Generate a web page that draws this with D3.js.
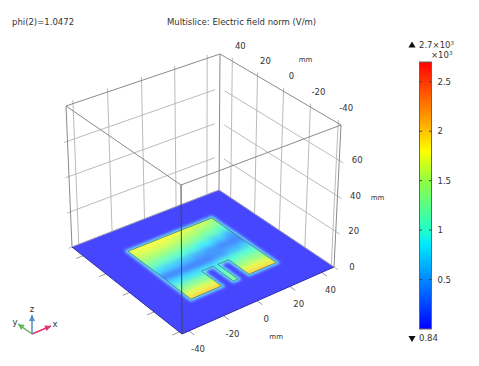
<!DOCTYPE html>
<html>
<head>
<meta charset="utf-8">
<script src="https://cdn.jsdelivr.net/npm/d3@7"></script>
<style>
  html, body { margin: 0; padding: 0; background: #fff; }
  text { font-family: "DejaVu Sans", sans-serif; fill: #333; }
</style>
</head>
<body>
<svg id="chart" width="479" height="366"></svg>
<script>
// Axis ranges and ticks (mm)
const xExtent = [-44, 48];
const yExtent = [-42, 50];
const zExtent = [0, 80];
const xTicks = [-40, -20, 0, 20, 40];
const yTicks = [-40, -20, 0, 20, 40];
const zTicks = [0, 20, 40, 60];
const zGrid = [20, 40, 60];

// Patch outline and feed notches, in mm
const patchX = [-24, -5.7, -5.7, 1.4, 1.4, 4.2, 4.2, 11, 11, 28, 28, -24];
const patchY = [-22, -22, -6, -6, -22, -22, -6, -6, -22, -22, 30, 30];

// Field norm on the patch (V/m), rows along fieldY, columns along fieldX
const fieldX = [-24, -15, -6, 2, 10, 19, 28];
const fieldY = [30, 24, 18, 12, 6, 0, -6, -12, -18, -22];
const fieldRows = [
  [1750, 1800, 1800, 1800, 1750, 1680, 1550],
  [1650, 1680, 1680, 1620, 1550, 1450, 1320],
  [1450, 1450, 1400, 1350, 1250, 1120, 950],
  [1150, 1100, 1050, 950, 850, 700, 480],
  [750, 700, 620, 520, 420, 330, 320],
  [330, 320, 300, 300, 420, 580, 680],
  [800, 800, 800, 800, 950, 1020, 1020],
  [1250, 1280, 1250, 1000, 1300, 1380, 1350],
  [1700, 1720, 1700, 1200, 1720, 1720, 1680],
  [1980, 2020, 2020, 1200, 2020, 2020, 1950]
];

// Colour table
const colorValues = [0, 850, 1000, 1500, 1800, 2000, 2700];
const colorNames = ["#0000ff", "#00e8ff", "#20ffc8", "#90ff40", "#ffff00", "#ffc000", "#ff0000"];
const legendTicks = [500, 1000, 1500, 2000, 2500];
const plateField = 0.84;

// Camera: where the floor and the lid of the box land on the page (front, right, back, left)
const floorQuad = [[182, 334], [334, 267], [219, 190], [72, 247]];
const lidQuad = [[181, 185], [341, 125], [220, 54], [66, 106]];

function quadMap(q) {
  const [[x0, y0], [x1, y1], [x2, y2], [x3, y3]] = q;
  const dx1 = x1 - x2, dx2 = x3 - x2, sx = x0 - x1 + x2 - x3;
  const dy1 = y1 - y2, dy2 = y3 - y2, sy = y0 - y1 + y2 - y3;
  const den = dx1 * dy2 - dx2 * dy1;
  const g = (sx * dy2 - dx2 * sy) / den;
  const h = (dx1 * sy - sx * dy1) / den;
  const a = x1 - x0 + g * x1, b = x3 - x0 + h * x3;
  const d = y1 - y0 + g * y1, e = y3 - y0 + h * y3;
  return (u, v) => {
    const w = g * u + h * v + 1;
    return [(a * u + b * v + x0) / w, (d * u + e * v + y0) / w];
  };
}

const uScale = d3.scaleLinear().domain(xExtent).range([0, 1]);
const vScale = d3.scaleLinear().domain(yExtent).range([0, 1]);
const tScale = d3.scaleLinear().domain(zExtent).range([0, 1]);
const floorMap = quadMap(floorQuad);
const lidMap = quadMap(lidQuad);

function project(x, y, z) {
  const a = floorMap(uScale(x), vScale(y));
  const b = lidMap(uScale(x), vScale(y));
  const t = tScale(z);
  return [a[0] + (b[0] - a[0]) * t, a[1] + (b[1] - a[1]) * t];
}

const color = d3.scaleLinear().domain(colorValues).range(colorNames);
const line3d = pts => d3.line()(pts.map(p => project(p[0], p[1], p[2])));
const loop3d = pts => line3d(pts) + "Z";

const [x0, x1] = xExtent;
const [y0, y1] = yExtent;
const [z0, z1] = zExtent;

const svg = d3.select("#chart");
const defs = svg.append("defs");

function blurFilter(id, dev) {
  defs.append("filter").attr("id", id)
    .attr("x", "-20%").attr("y", "-20%").attr("width", "140%").attr("height", "140%")
    .attr("color-interpolation-filters", "sRGB")
    .append("feGaussianBlur").attr("stdDeviation", dev);
}
blurFilter("fieldBlur", 2.4);
blurFilter("glowBlur", 1.7);

const platePts = [[x0, y0, 0], [x1, y0, 0], [x1, y1, 0], [x0, y1, 0]];
const patchPts = patchX.map((x, i) => [x, patchY[i], 0]);

defs.append("clipPath").attr("id", "plateClip").append("path").attr("d", loop3d(platePts));
defs.append("clipPath").attr("id", "patchClip").append("path").attr("d", loop3d(patchPts));

// Wall grid
const grid = svg.append("g").attr("fill", "none").attr("stroke", "#bbb").attr("stroke-width", 1);
xTicks.forEach(x => grid.append("path").attr("d", line3d([[x, y1, 0], [x, y1, z1 + 2]])));
yTicks.forEach(y => grid.append("path").attr("d", line3d([[x1, y, 0], [x1, y, z1 + 2]])));
zGrid.concat([0]).forEach(z => {
  grid.append("path").attr("d", line3d([[x0 - 2, y1, z], [x1 - 3, y1, z]]));
  grid.append("path").attr("d", line3d([[x1, y1 - 4, z], [x1, y0 - 3, z]]));
});

// Box, back part
const box = svg.append("g").attr("fill", "none").attr("stroke", "#8a8a8a").attr("stroke-width", 1);
box.append("path").attr("d", line3d([[x0, y1, 0], [x0, y1, z1]]));
box.append("path").attr("d", line3d([[x1, y1, 0], [x1, y1, z1]]));
box.append("path").attr("d", line3d([[x1, y0, 0], [x1, y0, z1]]));

// Floor ticks
const floorTicks = svg.append("g").attr("fill", "none").attr("stroke", "#999");
xTicks.forEach(x => floorTicks.append("path").attr("d", line3d([[x, y0, 0], [x, y0 - 4, 0]])));
yTicks.forEach(y => floorTicks.append("path").attr("d", line3d([[x0, y, 0], [x0 - 4, y, 0]])));

// Plate with the field on it
const surface = svg.append("g").attr("opacity", 0.72);
surface.append("path").attr("d", loop3d(platePts)).attr("fill", color(plateField));
surface.append("g").attr("clip-path", "url(#plateClip)")
  .append("path").attr("d", loop3d(patchPts))
  .attr("fill", "none").attr("stroke", "#38e4ff").attr("stroke-width", 4)
  .attr("filter", "url(#glowBlur)");

// Cell limits halfway between stations, pushed past the patch so the blur stays even
const cellEdges = s => s.map((v, i) => [
  i === 0 ? v - (s[1] - s[0]) * 2 : (s[i - 1] + v) / 2,
  i === s.length - 1 ? v + (v - s[i - 1]) * 2 : (s[i + 1] + v) / 2
]);
const xEdges = cellEdges(fieldX);
const yEdges = cellEdges(fieldY);
const cells = [];
fieldRows.forEach((row, j) => row.forEach((value, i) => cells.push({ i, j, value })));

surface.append("g").attr("clip-path", "url(#patchClip)")
  .append("g").attr("filter", "url(#fieldBlur)")
  .selectAll("path").data(cells).enter().append("path")
  .attr("d", c => {
    const [xa, xb] = xEdges[c.i];
    const [ya, yb] = yEdges[c.j];
    return loop3d([[xa, ya, 0], [xb, ya, 0], [xb, yb, 0], [xa, yb, 0]]);
  })
  .attr("fill", c => color(c.value))
  .attr("stroke", c => color(c.value));

// Patch outline and plate rim
svg.append("path").attr("d", loop3d(patchPts))
  .attr("fill", "none").attr("stroke", "#2f5f5a").attr("stroke-width", 0.6);
svg.append("path").attr("d", line3d([[x0, y1, 0], [x1, y1, 0], [x1, y0, 0]]))
  .attr("fill", "none").attr("stroke", "#9a9ac0").attr("stroke-width", 1);
svg.append("path").attr("d", line3d([[x0, y1, 0], [x0, y0, 0], [x1, y0, 0]]))
  .attr("fill", "none").attr("stroke", "#2c2ca8").attr("stroke-width", 1);

// Box, front part and lid
box.raise();
box.append("path").attr("d", loop3d([[x0, y0, z1], [x1, y0, z1], [x1, y1, z1], [x0, y1, z1]]));
svg.append("path").attr("d", line3d([[x0, y0, 0], [x0, y0, z1]]))
  .attr("fill", "none").attr("stroke", "#444").attr("stroke-width", 1);

// Axis labels
const labels = svg.append("g").attr("font-size", 8.5).attr("text-anchor", "middle");
function label(text, p, dx, dy, size) {
  labels.append("text").attr("x", p[0] + dx).attr("y", p[1] + dy).attr("dy", "0.35em")
    .attr("font-size", size || 8.5).text(text);
}
xTicks.forEach(x => label(x, project(x, y0, 0), 9, 18));
yTicks.forEach(y => label(y, project(x1, y, z1), 8, -15));
zTicks.forEach(z => label(z, project(x1, y0, z), 18, 0));
label("mm", project(0, y0, 0), 19, 36, 7);
label("mm", project(x1, 0, z1), 22, -32, 7);
label("mm", project(x1, y0, 40), 40, 2, 7);

// Header
svg.append("text").attr("x", 12).attr("y", 25).attr("font-size", 8.5).text("phi(2)=1.0472");
svg.append("text").attr("x", 167).attr("y", 25).attr("font-size", 8.5)
  .text("Multislice: Electric field norm (V/m)");

// Colour bar
const barY = d3.scaleLinear().domain([0, 2700]).range([329, 62]);
const grad = defs.append("linearGradient").attr("id", "barGrad")
  .attr("x1", 0).attr("x2", 0).attr("y1", 1).attr("y2", 0);
colorValues.forEach((v, i) => grad.append("stop")
  .attr("offset", v / 2700).attr("stop-color", colorNames[i]));

const bar = svg.append("g").attr("transform", "translate(419.5,0)");
bar.append("rect").attr("y", barY(2700)).attr("width", 12).attr("height", barY(0) - barY(2700))
  .attr("fill", "url(#barGrad)").attr("stroke", "#666").attr("stroke-width", 1);
const barAxis = bar.append("g").attr("transform", "translate(12,0)")
  .call(d3.axisRight(barY).tickValues(legendTicks).tickSize(0).tickPadding(6).tickFormat(d => d / 1000));
barAxis.select(".domain").remove();
barAxis.selectAll("text").attr("font-size", 8.5).style("font-family", "DejaVu Sans, sans-serif");
legendTicks.forEach(v => {
  bar.append("line").attr("x1", 0).attr("x2", 2.5).attr("y1", barY(v)).attr("y2", barY(v)).attr("stroke", "#444");
  bar.append("line").attr("x1", 9.5).attr("x2", 12).attr("y1", barY(v)).attr("y2", barY(v)).attr("stroke", "#444");
});

// Range markers above and below the bar
const triangle = d3.symbol().type(d3.symbolTriangle).size(22);
svg.append("path").attr("d", triangle()).attr("transform", "translate(412,45.5)").attr("fill", "#111");
svg.append("path").attr("d", triangle()).attr("transform", "translate(412,338) rotate(180)").attr("fill", "#111");
const maxLabel = svg.append("text").attr("x", 419).attr("y", 48).attr("font-size", 8.5).text("2.7×10");
maxLabel.append("tspan").attr("font-size", 5.5).attr("dy", -3).text("3");
const scaleLabel = svg.append("text").attr("x", 431).attr("y", 58).attr("font-size", 8.5).text("×10");
scaleLabel.append("tspan").attr("font-size", 5.5).attr("dy", -3).text("3");
svg.append("text").attr("x", 419).attr("y", 341).attr("font-size", 8.5).text("0.84");

// Axis triad
const triad = [
  { name: "x", to: [51, 326], at: [55, 324], color: "#e0336e" },
  { name: "y", to: [18, 324], at: [15, 322], color: "#62b356" },
  { name: "z", to: [32, 315], at: [32, 309], color: "#4f8cc9" }
];
const triadOrigin = [32, 334];
const gTriad = svg.append("g");
triad.forEach(a => {
  const ang = Math.atan2(a.to[1] - triadOrigin[1], a.to[0] - triadOrigin[0]) * 180 / Math.PI;
  gTriad.append("line")
    .attr("x1", triadOrigin[0]).attr("y1", triadOrigin[1]).attr("x2", a.to[0]).attr("y2", a.to[1])
    .attr("stroke", a.color).attr("stroke-width", 1.5);
  gTriad.append("path").attr("d", "M0,0L-6,-3L-6,3Z")
    .attr("transform", `translate(${a.to[0]},${a.to[1]}) rotate(${ang})`).attr("fill", a.color);
  gTriad.append("text").attr("x", a.at[0]).attr("y", a.at[1]).attr("dy", "0.35em")
    .attr("text-anchor", "middle").attr("font-size", 8.5).text(a.name);
});
</script>
</body>
</html>
